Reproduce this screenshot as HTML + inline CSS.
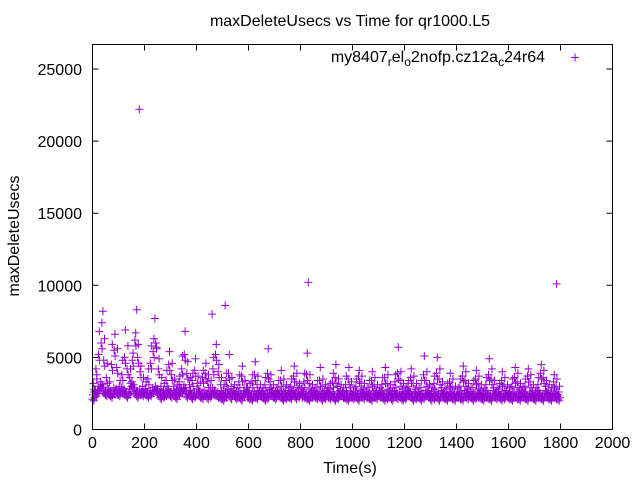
<!DOCTYPE html>
<html><head><meta charset="utf-8"><style>
body{margin:0;background:#fff}
svg{display:block;font-family:"Liberation Sans",sans-serif}
</style></head><body>
<svg id="chart" width="640" height="480">
<rect width="640" height="480" fill="#fff"/>
<text x="350" y="26" font-size="16" text-anchor="middle">maxDeleteUsecs vs Time for qr1000.L5</text>
<text x="350" y="473" font-size="16" text-anchor="middle">Time(s)</text>
<text transform="translate(19,236) rotate(-90)" font-size="16" text-anchor="middle">maxDeleteUsecs</text>
<g id="axes"></g>
<g id="marks"></g>
<g>
<text x="545" y="62" font-size="16" text-anchor="end">my8407<tspan font-size="12" dy="4">r</tspan><tspan dy="-4">el</tspan><tspan font-size="12" dy="4">o</tspan><tspan dy="-4">2nofp.cz12a</tspan><tspan font-size="12" dy="4">c</tspan><tspan dy="-4">24r64</tspan></text>
<path d="M571 57.5h8M575 53.5v8" stroke="#9400d3" stroke-width="1"/>
</g>
<rect x="92.5" y="44.5" width="520" height="385" fill="none" stroke="#000"/>
</svg>
<script>
const xTicks=[0,200,400,600,800,1000,1200,1400,1600,1800,2000];
const yTicks=[0,5000,10000,15000,20000,25000];
const lowA=[2100,2400,2700,3000,2600,2400,2500,2300,2600,2500,2400,2600,2500,2300,2500,3000,2600,2300,2500,2400,2500,2300,2400,2600,2700,2500,2200,2300,2400,2500,2300,2400,2200,2500,2600,2800,2300,2400,2200,2300,2500,2300,2200,2400,2200,2300,2600,2400,2300,2200,2100,2300,2500,2200,2400,2200,2300,2100,2400,2600,2200,2100,2300,2200,2400,2300,2100,2200,2500,2300,2200,2400,2300,2100,2200,2300,2200,2400,2200,2300,2500,2300,2200,2100,2300,2400,2200,2300,2100,2200,2400,2200,2300,2100,2200,2400,2300,2200,2100,2300,2200,2300,2100,2400,2200,2300,2200,2100,2300,2200,2400,2300,2100,2200,2300,2100,2400,2200,2300,2100,2200,2400,2300,2100,2200,2300,2100,2200,2400,2300,2100,2200,2300,2100,2400,2200,2100,2300,2200,2100,2300,2200,2100,2400,2200,2300,2100,2200,2300,2200,2100,2300,2200,2100,2400,2200,2300,2100,2200,2300,2200,2100,2300,2200,2100,2400,2200,2100,2300,2200,2100,2300,2200,2100,2400,2200,2100,2300,2200,2100];
const midB=[3200,4200,5200,6000,4800,3600,2800,4500,5500,4300,3000,3800,5000,4200,3600,4800,6200,5000,4000,3000,2800,3500,4600,5400,6000,4200,3000,2700,3400,4500,3800,3000,2700,3300,4200,5200,3900,3100,3400,4100,3200,2800,3600,3900,3300,2900,4200,5200,4000,3100,2700,3400,3900,3000,2700,2600,3300,3700,2900,2600,2700,3300,3800,3100,2700,2600,3100,3900,3300,2700,2600,2900,3400,3000,2700,2600,3000,3700,3300,2800,2600,3300,3800,3200,2700,2600,2900,3400,3000,2700,2600,2800,3300,3600,3000,2700,2600,3100,3500,2900,2600,3000,3700,3200,2800,2600,2900,3400,3100,2700,2600,3100,3600,3200,2700,2600,3300,3900,3400,2800,2600,3000,3600,3200,2800,2600,2900,3800,3400,2700,2600,3200,3900,3500,2900,2600,2800,3300,3000,2600,2600,3000,3700,3400,2800,2600,2900,3500,3200,2700,2600,3100,3800,3500,2900,2600,2800,3400,3100,2700,2600,3000,3600,3300,2800,2600,3000,3700,3300,2700,2600,3100,3900,3600,3000,2700,2600,3300,3000,2600];
const highC=[2600,3500,6800,7400,6300,4600,3300,5900,6600,5600,3400,4800,6900,5800,4200,5300,6700,5900,4400,3600,3300,4200,5800,6300,5700,4900,3600,3200,4100,5400,4600,3500,3100,3700,5100,6800,4700,3600,3900,4900,3700,3300,4100,4600,3800,3400,5000,5900,4500,3600,3100,3900,5200,3600,3100,2900,3800,4400,3400,2900,3200,3800,4700,3700,3100,2900,3600,5600,3800,3100,2900,3400,4100,3500,3100,2900,3500,4400,3900,3200,2900,3900,5300,3800,3100,2900,3400,4300,3500,3100,2900,3200,3900,4500,3500,3100,2900,3700,4300,3300,2900,3500,4100,3700,3200,2900,3400,4000,3600,3100,2900,3600,4300,3800,3100,2900,3800,5700,4000,3200,2900,3400,4200,3700,3200,2900,3400,5100,4000,3100,2900,3700,5000,4200,3300,2900,3200,3900,3500,3000,2900,3500,4400,4000,3200,2900,3400,4100,3700,3100,2900,3600,4900,4200,3400,2900,3200,4000,3600,3100,2900,3500,4300,3900,3200,2900,3500,4200,3800,3100,2900,3600,4500,4100,3400,3100,2900,3800,3500,3000];
const outlierTimes=[40,170,180,240,460,510,830,1785];
const outlierValues=[8200,8300,22200,7700,8000,8600,10200,10100];
const sampleStep=10;

const X0=92.5,X1=612.5,Y0=429.5,Y1=44.5,XMAX=2000,YMAX=26700;
const xs=v=>X0+(X1-X0)*v/XMAX;
const ys=v=>Y0-(Y0-Y1)*v/YMAX;
const NS="http://www.w3.org/2000/svg";
const axes=document.getElementById('axes');
const marks=document.getElementById('marks');
xTicks.forEach(t=>{
  const x=xs(t);
  const p=document.createElementNS(NS,'path');
  p.setAttribute('d',`M${x} ${Y0}v-6M${x} ${Y1}v6`);
  p.setAttribute('stroke','#000');
  
  
  axes.appendChild(p);
  const tx=document.createElementNS(NS,'text');
  tx.setAttribute('x',x);tx.setAttribute('y',448);
  tx.setAttribute('font-size','16');tx.setAttribute('text-anchor','middle');
  tx.textContent=t;
  
  
  axes.appendChild(tx);
});
yTicks.forEach(t=>{
  const y=ys(t);
  const p=document.createElementNS(NS,'path');
  p.setAttribute('d',`M${X0} ${y}h6M${X1} ${y}h-6`);
  p.setAttribute('stroke','#000');
  
  
  axes.appendChild(p);
  const tx=document.createElementNS(NS,'text');
  tx.setAttribute('x',82);tx.setAttribute('y',y+6);
  tx.setAttribute('font-size','16');tx.setAttribute('text-anchor','end');
  tx.textContent=t;
  
  
  axes.appendChild(tx);
});
let d='';
function add(t,v){const x=xs(t),y=ys(v);d+=`M${(x-4).toFixed(1)} ${y.toFixed(1)}h8M${x.toFixed(1)} ${(y-4).toFixed(1)}v8`;}
lowA.forEach((v,i)=>add(i*sampleStep,v));
lowA.forEach((v,i)=>add(i*sampleStep+5,v-100));
lowA.forEach((v,i)=>add(i*sampleStep+2,v+300));
lowA.forEach((v,i)=>add(i*sampleStep+8,v+100));
midB.forEach((v,i)=>add(i*sampleStep+3,v));
midB.forEach((v,i)=>add(i*sampleStep+7,v-400));
highC.forEach((v,i)=>add(i*sampleStep+6,v));
outlierTimes.forEach((t,i)=>add(t,outlierValues[i]));
const pts=document.createElementNS(NS,'path');
pts.setAttribute('d',d);
pts.setAttribute('stroke','#9400d3');
pts.setAttribute('fill','none');


marks.appendChild(pts);
</script>
</body></html>
